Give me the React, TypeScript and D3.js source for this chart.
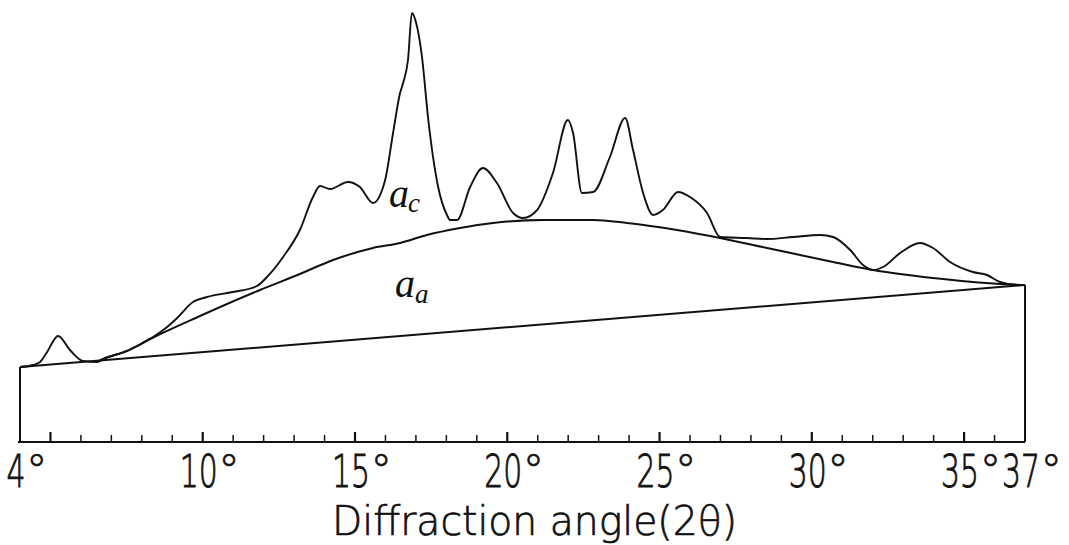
import React from "react";
import * as d3 from "d3";

// Crystalline (total) diffraction trace: [2θ in degrees, intensity]
const crystalAngle = [4.0, 4.43, 4.66, 4.89, 5.25, 5.64, 6.07, 6.53, 6.73, 7.51, 8.37, 8.83, 9.16, 9.68, 10.14, 10.99, 11.78, 12.11, 12.64, 13.19, 13.62, 13.85, 14.18, 14.77, 15.16, 15.59, 15.99, 16.25, 16.48, 16.58, 16.74, 16.87, 17.0, 17.2, 17.4, 17.73, 18.02, 18.12, 18.35, 18.78, 19.2, 19.66, 20.19, 20.52, 20.98, 21.5, 21.99, 22.16, 22.45, 22.82, 23.37, 23.87, 24.13, 24.46, 24.79, 25.11, 25.61, 26.0, 26.56, 26.99, 27.87, 28.53, 29.38, 30.27, 30.7, 31.26, 31.68, 32.01, 32.34, 32.9, 33.55, 33.98, 34.54, 35.29, 35.75, 36.18, 36.74, 37.0];
const crystalIntensity = [75, 77, 80, 90, 106, 92, 81, 80, 83, 91, 105, 115, 124, 140, 145, 150, 156, 165, 185, 212, 245, 256, 253, 260, 255, 239, 262, 309, 349, 359, 382, 429, 420, 385, 324, 255, 227, 222, 222, 255, 274, 259, 229, 224, 232, 269, 322, 309, 249, 250, 285, 324, 292, 249, 227, 232, 250, 245, 229, 205, 204, 203, 205, 207, 205, 192, 177, 172, 175, 189, 199, 194, 180, 170, 167, 160, 157, 157];

// Amorphous halo
const amorphAngle = [6.53, 6.73, 7.51, 8.27, 9.91, 11.88, 13.19, 14.28, 15.59, 16.48, 17.36, 18.45, 19.53, 21.17, 22.82, 23.93, 25.57, 26.99, 28.53, 30.7, 32.01, 33.98, 36.18, 37.0];
const amorphIntensity = [80, 83, 91, 103, 126, 152, 168, 182, 194, 199, 207, 214, 219, 222, 222, 219, 212, 204, 194, 180, 172, 164, 158, 157];

// Linear background
const backgroundAngle = [4, 37];
const backgroundIntensity = [75, 157];

const tickLabels = [4, 10, 15, 20, 25, 30, 35, 37];
const xAxisTitle = "Diffraction angle(2θ)";

const W = 1069;
const H = 545;

export default function App() {
  const x = d3.scaleLinear().domain([4, 37]).range([20, 1025]);
  const y = d3.scaleLinear().domain([0, 430]).range([442, 12]);

  const line = d3
    .line<[number, number]>()
    .x((d) => x(d[0]))
    .y((d) => y(d[1]))
    .curve(d3.curveMonotoneX);
  const straight = d3
    .line<[number, number]>()
    .x((d) => x(d[0]))
    .y((d) => y(d[1]));

  const crystal = crystalAngle.map((a, i) => [a, crystalIntensity[i]] as [number, number]);
  const amorph = amorphAngle.map((a, i) => [a, amorphIntensity[i]] as [number, number]);
  const bg = backgroundAngle.map((a, i) => [a, backgroundIntensity[i]] as [number, number]);

  const ticks = d3.range(5, 37, 1);
  const stroke = "#111";
  const fontFamily = "'DejaVu Sans', 'Liberation Sans', sans-serif";
  const digitFont = 45;
  const digitW = 19;
  const digitScale = digitW / (0.6362 * digitFont);

  return (
    <svg
      width={W}
      height={H}
      viewBox={`0 0 ${W} ${H}`}
      style={{ position: "absolute", left: 0, top: 0, background: "#fff" }}
    >
      <rect x={0} y={0} width={W} height={H} fill="#fff" />
      {/* frame: baseline and walls */}
      <line x1={x(4) - 2} x2={x(37)} y1={y(0)} y2={y(0)} stroke={stroke} strokeWidth={2.2} />
      <line x1={x(4)} x2={x(4)} y1={y(0)} y2={y(backgroundIntensity[0])} stroke={stroke} strokeWidth={2} />
      <line x1={x(37)} x2={x(37)} y1={y(0)} y2={y(backgroundIntensity[1])} stroke={stroke} strokeWidth={2} />
      {ticks.map((t) => (
        <line
          key={t}
          x1={x(t)}
          x2={x(t)}
          y1={y(0)}
          y2={y(0) - (t % 5 === 0 ? 10 : 7)}
          stroke={stroke}
          strokeWidth={t % 5 === 0 ? 2.2 : 1.5}
        />
      ))}
      {/* curves */}
      <path d={straight(bg) || ""} fill="none" stroke={stroke} strokeWidth={2} />
      <path d={line(amorph) || ""} fill="none" stroke={stroke} strokeWidth={2} />
      <path d={line(crystal) || ""} fill="none" stroke={stroke} strokeWidth={1.9} strokeLinejoin="round" />

      {/* tick labels */}
      {tickLabels.map((t) => {
        const s = String(t);
        const left = x(t) - 4 - (s.length * digitW) / 2;
        const right = left + s.length * digitW;
        return (
          <g key={t}>
            <text
              transform={`translate(${left},487) scale(${digitScale},1)`}
              fontFamily={fontFamily}
              fontWeight={200}
              fontSize={digitFont}
              fill={stroke}
              stroke={stroke}
              strokeWidth={0.9}
            >
              {s}
            </text>
            <text
              x={right + 0.3}
              y={486}
              fontFamily={fontFamily}
              fontWeight={200}
              fontSize={44}
              fill={stroke}
              stroke={stroke}
              strokeWidth={0.6}
            >
              °
            </text>
          </g>
        );
      })}
      <text
        x={332}
        y={535}
        fontFamily={fontFamily}
        fontWeight={200}
        fontSize={41}
        textLength={405}
        lengthAdjust="spacingAndGlyphs"
        fill={stroke}
        stroke={stroke}
        strokeWidth={0.7}
      >
        {xAxisTitle}
      </text>

      {/* curve labels */}
      <text x={389} y={207} fontFamily="'Liberation Serif', serif" fontStyle="italic" fontSize={40} fill={stroke}>
        a
        <tspan x={408} y={212} fontSize={27} fontStyle="italic">
          c
        </tspan>
      </text>
      <text x={395} y={297} fontFamily="'Liberation Serif', serif" fontStyle="italic" fontSize={40} fill={stroke}>
        a
        <tspan x={415} y={303} fontSize={27} fontStyle="italic">
          a
        </tspan>
      </text>
    </svg>
  );
}
